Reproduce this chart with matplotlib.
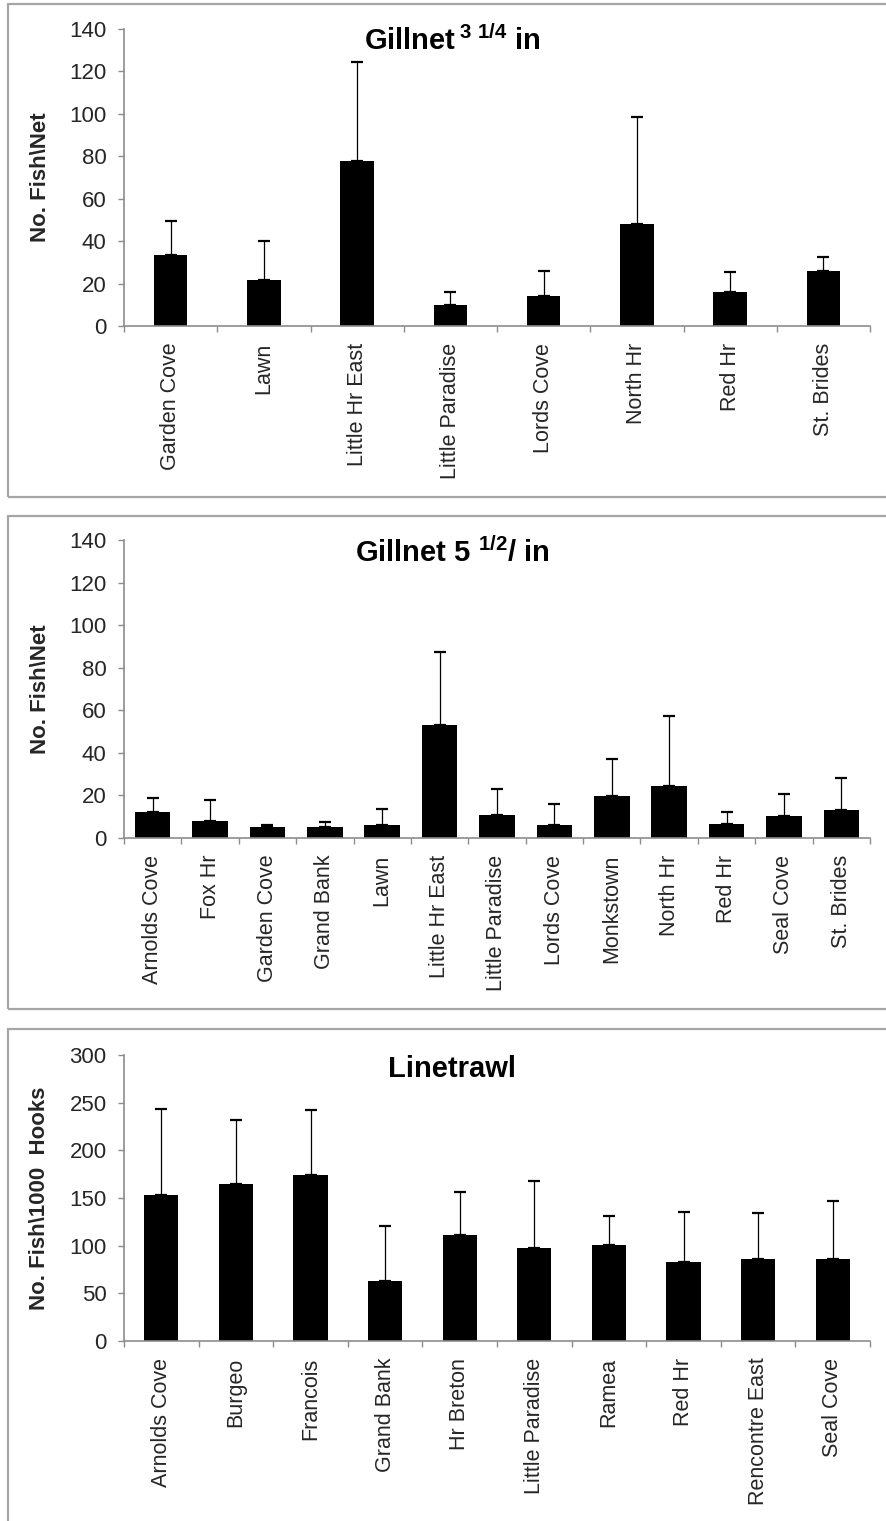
import numpy as np
import matplotlib
matplotlib.use('Agg')
from matplotlib import pyplot as plt
from matplotlib.patches import Rectangle

plt.rcParams['font.family'] = 'Liberation Sans'
plt.rcParams['mathtext.fontset'] = 'custom'
plt.rcParams['mathtext.rm'] = 'Liberation Sans'
plt.rcParams['mathtext.bf'] = 'Liberation Sans:bold'

# Gillnet 3 1/4 in: mean catch and standard deviation per site
sites_small = ['Garden Cove', 'Lawn', 'Little Hr East', 'Little Paradise',
               'Lords Cove', 'North Hr', 'Red Hr', 'St. Brides']
mean_small = [33.5, 21.5, 78, 10, 14, 48, 16, 26]
sd_small = [16, 18.5, 46.5, 5.8, 12, 50.3, 9.4, 6.3]

# Gillnet 5 1/2 in
sites_large = ['Arnolds Cove', 'Fox Hr', 'Garden Cove', 'Grand Bank', 'Lawn',
               'Little Hr East', 'Little Paradise', 'Lords Cove', 'Monkstown',
               'North Hr', 'Red Hr', 'Seal Cove', 'St. Brides']
mean_large = [12, 8, 5, 5, 6, 53, 11, 6, 19.5, 24.5, 6.5, 10.5, 13]
sd_large = [7, 10, 1.3, 2.7, 7.5, 34.5, 12, 10, 17.5, 33, 5.5, 10, 15]

# Linetrawl, per 1000 hooks
sites_trawl = ['Arnolds Cove', 'Burgeo', 'Francois', 'Grand Bank', 'Hr Breton',
               'Little Paradise', 'Ramea', 'Red Hr', 'Rencontre East',
               'Seal Cove']
mean_trawl = [153, 165, 174, 63, 111, 98, 101, 83, 86, 86]
sd_trawl = [90, 67, 68, 58, 45, 70, 30, 52, 48, 61]

W, H = 886, 1521
AXIS_GREY = '#8c8c8c'
TEXT = '#262626'


def px_box(left, top, right, bottom):
    '''Convert a pixel box (origin top-left) to figure fractions'''
    return [left / W, 1 - bottom / H, (right - left) / W, (bottom - top) / H]


def draw_panel(fig, box, frame, sites, means, sds, ymax, step, title,
               title_y, ylabel, width):
    ax = fig.add_axes(px_box(*box))
    x = np.arange(len(sites))
    upper = np.array(sds)
    ax.bar(x, means, width=width, color='black', zorder=2)
    ax.errorbar(x, means, yerr=[np.zeros_like(upper), upper], fmt='none',
                ecolor='black', elinewidth=0.9, capsize=4.5, capthick=1.6,
                zorder=3)
    ax.set_xlim(-0.5, len(sites) - 0.5)
    ax.set_ylim(0, ymax)
    ax.set_yticks(np.arange(0, ymax + 1, step))
    ax.set_xticks(x)
    ax.set_xticklabels(sites, rotation=90, fontsize=15.5, color=TEXT)
    ax.set_xticks(np.arange(len(sites) + 1) - 0.5, minor=True)
    ax.tick_params(axis='x', which='major', length=0, pad=12)
    ax.tick_params(axis='x', which='minor', length=4.5, width=1,
                   color=AXIS_GREY, direction='out')
    ax.tick_params(axis='y', length=4.5, width=1, color=AXIS_GREY,
                   labelsize=16, labelcolor=TEXT, pad=8)
    for side in ['top', 'right']:
        ax.spines[side].set_visible(False)
    for side in ['left', 'bottom']:
        ax.spines[side].set_color(AXIS_GREY)
        ax.spines[side].set_linewidth(1.2)
    fig.text(452 / W, 1 - title_y / H, title, fontsize=21, fontweight='bold',
             ha='center', va='baseline', color='black')
    fig.text(40 / W, 1 - (box[1] + box[3]) / 2 / H, ylabel, rotation=90,
             fontsize=16, fontweight='bold', ha='center', va='center',
             color=TEXT)
    fl, ft, fb = frame
    fig.add_artist(Rectangle((fl / W, 1 - fb / H), 1.2, (fb - ft) / H,
                             transform=fig.transFigure, fill=False,
                             edgecolor='#a6a6a6', linewidth=1.6))
    return ax


fig = plt.figure(figsize=(W / 100, H / 100), dpi=100)

draw_panel(fig, (124, 29, 870, 326), (8, 4, 497), sites_small, mean_small,
           sd_small, 140, 20, r'Gillnet$\,^{\mathbf{3\ 1/4}}$ in', 50,
           'No. Fish\\Net', 0.36)
draw_panel(fig, (124, 540, 870, 838), (8, 516, 1009), sites_large, mean_large,
           sd_large, 140, 20, r'Gillnet 5 $^{\mathbf{1/2}}$/ in', 562,
           'No. Fish\\Net', 0.62)
draw_panel(fig, (124, 1055, 870, 1341), (8, 1029, 1560), sites_trawl,
           mean_trawl, sd_trawl, 300, 50, 'Linetrawl', 1077,
           'No. Fish\\1000  Hooks', 0.46)

fig.savefig('out.png', dpi=100)
plt.close(fig)
